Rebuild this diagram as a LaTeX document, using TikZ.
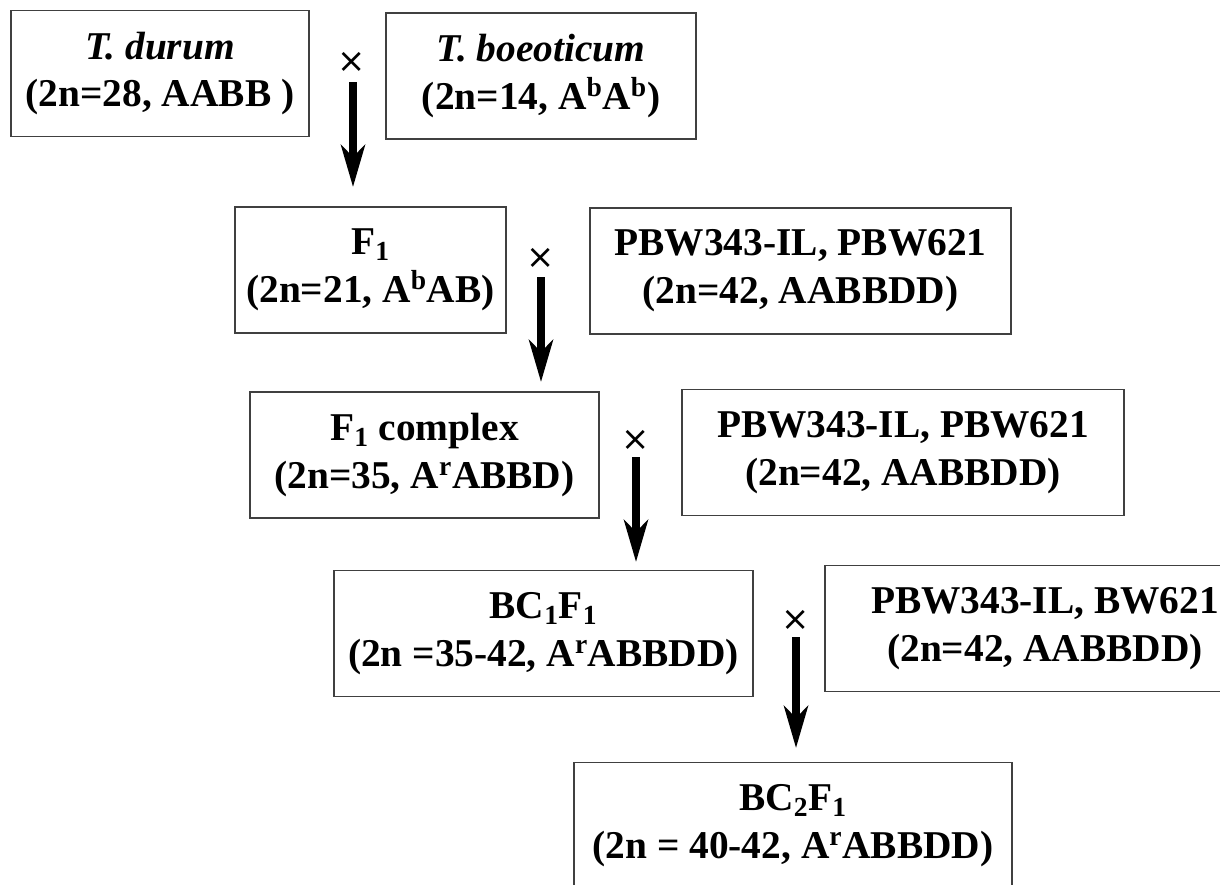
\documentclass[tikz,border=0pt]{standalone}
\usepackage{fontspec}
\setmainfont{Liberation Serif}
\newfontfamily\crossfont{DejaVu Sans}
\usetikzlibrary{arrows.meta}

\tikzset{
	box/.style={draw=black!75, line width=1.2pt, align=center, minimum height=3.15cm,
		font=\fontsize{28}{34}\selectfont\bfseries, inner sep=0pt},
	cross/.style={font=\fontsize{24}{24}\crossfont, inner sep=0pt},
	down/.style={line width=5pt, -{Stealth[length=1.05cm, width=0.6cm, inset=0.3cm]}}
}

\begin{document}
\begin{tikzpicture}[x=0.025cm, y=-0.025cm]
			\clip (0,0) rectangle (1220,884);
			\node (durum) [box, minimum width=7.45cm] at (160,73.5) {\textit{T. durum}\\(2n=28, AABB )};
			\node (boeo) [box, minimum width=7.75cm] at (541,76) {\textit{T. boeoticum}\\(2n=14, A\textsuperscript{b}A\textsuperscript{b})};
			\node (f1) [box, minimum width=6.775cm] at (370.5,270) {F\textsubscript{1}\\(2n=21, A\textsuperscript{b}AB)};
			\node (pbwa) [box, minimum width=10.525cm] at (800.5,271) {PBW343-IL, PBW621\\(2n=42, AABBDD)};
			\node (f1c) [box, minimum width=8.725cm] at (424.5,455) {F\textsubscript{1} complex\\(2n=35, A\textsuperscript{r}ABBD)};
			\node (pbwb) [box, minimum width=11.05cm] at (903,452.5) {PBW343-IL, PBW621\\(2n=42, AABBDD)};
			\node (bc1) [box, minimum width=10.475cm] at (543.5,633.5) {BC\textsubscript{1}F\textsubscript{1}\\(2n =35-42, A\textsuperscript{r}ABBDD)};
			\node (pbwc) [box, minimum width=11cm] at (1045,628.5) {PBW343-IL, BW621\\(2n=42, AABBDD)};
			\node (bc2) [box, minimum width=10.95cm] at (793,825.5) {BC\textsubscript{2}F\textsubscript{1}\\(2n = 40-42, A\textsuperscript{r}ABBDD)};
			% crosses
			\node (x1) [cross] at (352,62) {×};
			\node (x2) [cross] at (541,258) {×};
			\node (x3) [cross] at (636,440) {×};
			\node (x4) [cross] at (796,620) {×};
			% arrows
			\coordinate (s1) at (353,82);
			\coordinate (e1) at (353,187);
			\coordinate (s2) at (541,277);
			\coordinate (e2) at (541,382);
			\coordinate (s3) at (636,457);
			\coordinate (e3) at (636,562);
			\coordinate (s4) at (796,637);
			\coordinate (e4) at (796,748);
			\draw [down] (s1) -- (e1);
			\draw [down] (s2) -- (e2);
			\draw [down] (s3) -- (e3);
			\draw [down] (s4) -- (e4);
		\end{tikzpicture}
\end{document}
